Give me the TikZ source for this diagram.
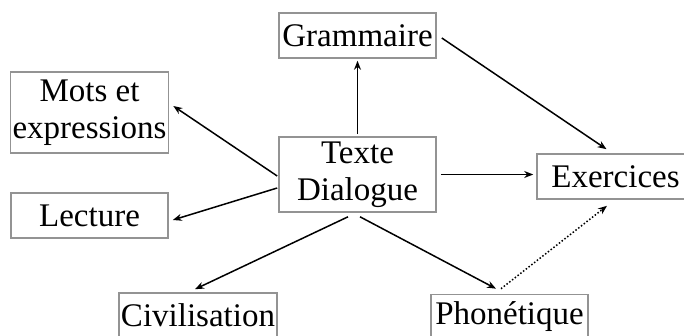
\documentclass[tikz,border=0pt]{standalone}
\usepackage{fontspec}
\setmainfont{Liberation Serif}
\usetikzlibrary{arrows.meta}

\tikzset{
  box/.style={draw=gray!85,line width=1.6pt,minimum width=157pt,minimum height=45pt,
    inner sep=2pt,align=center,font=\fontsize{33}{37}\selectfont},
  arr/.style={-{Stealth[length=9pt,width=7pt]},line width=1.5pt}
}

\begin{document}
\begin{tikzpicture}[x=1pt,y=-1pt]
\useasboundingbox (0,0) rectangle (684,336);

\node[box] (gram) at (357.5,35.5) {Grammaire};
\node[box,minimum height=81pt] (mots) at (89.5,112.5) {Mots et\\expressions};
\node[box] (lect) at (89.5,215.5) {Lecture};
\node[box,minimum height=75pt] (txt) at (357.5,174.5) {Texte\\Dialogue};
\node[box] (exer) at (615.5,176.5) {Exercices};
\node[box] (civ) at (198,315.5) {Civilisation};
\node[box] (phon) at (509.5,317) {Phonétique};

\draw[arr,shorten >=2pt] ([yshift=2pt]txt.north) -- (gram.south);
\draw[arr] ([xshift=5pt,yshift=-2.5pt]gram.east) -- ([xshift=-9pt,yshift=4pt]exer.north);
\draw[arr] ([xshift=4pt]txt.east) -- ([xshift=-3pt]txt.east -| exer.west);
\draw[arr] ([xshift=-1pt,yshift=-1.5pt]txt.west) -- ([xshift=4pt,yshift=6.5pt]mots.east);
\draw[arr] ([xshift=-1pt,yshift=-13.5pt]txt.west) -- ([xshift=4pt,yshift=-4.5pt]lect.east);
\draw[arr] ([xshift=-9.5pt,yshift=-4pt]txt.south) -- ([xshift=-3pt,yshift=3pt]civ.north);
\draw[arr] ([xshift=2.5pt,yshift=-4pt]txt.south) -- ([xshift=-13.5pt,yshift=5pt]phon.north);
\draw[arr,dotted] ([xshift=-8.5pt,yshift=5pt]phon.north) -- ([xshift=-8.5pt,yshift=-6pt]exer.south);

\end{tikzpicture}
\end{document}
